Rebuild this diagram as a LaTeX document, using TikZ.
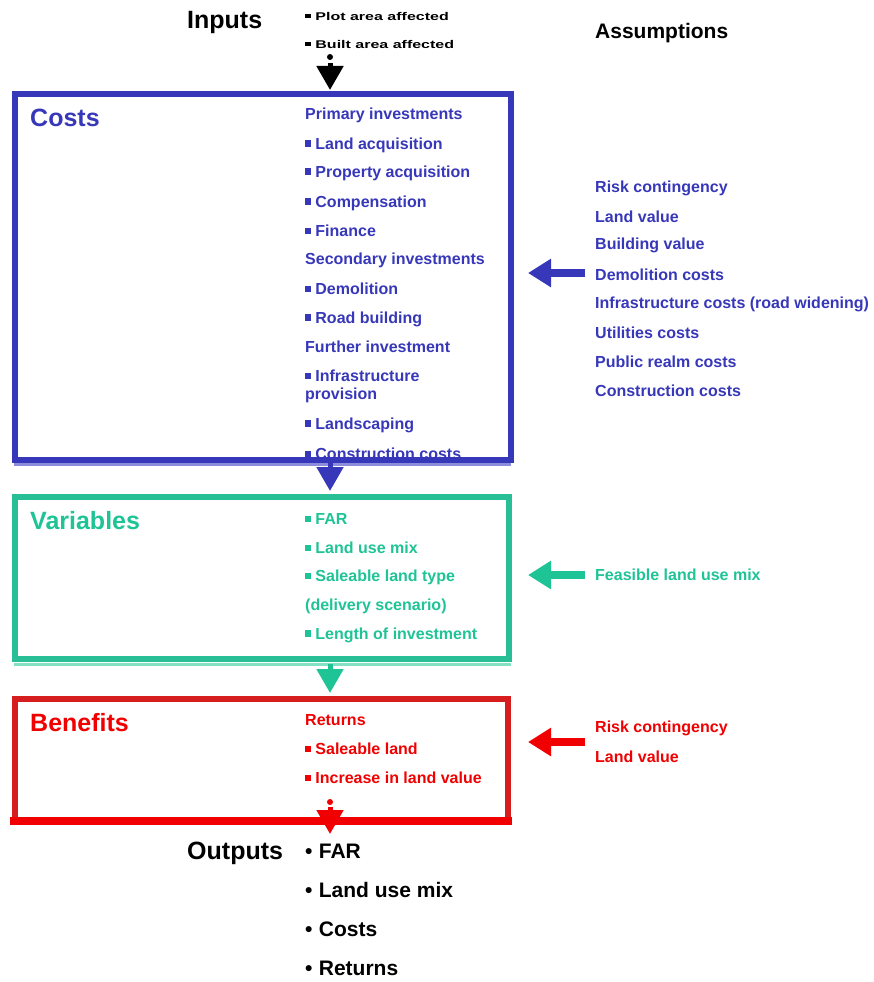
\documentclass[tikz,border=0pt]{standalone}
\usepackage{fontspec}
\usepackage{graphicx}
\setmainfont{Liberation Sans}
\usetikzlibrary{arrows.meta}
\definecolor{cblue}{RGB}{55,55,185}
\definecolor{cbluel}{RGB}{140,140,220}
\definecolor{cteal}{RGB}{30,195,150}
\definecolor{ctealline}{RGB}{40,190,150}
\definecolor{ctealL}{RGB}{130,225,195}
\definecolor{credline}{RGB}{215,30,30}
\definecolor{cred}{RGB}{240,0,0}
\newcommand{\sqb}{\rule[0.16em]{0.38em}{0.38em}\hspace{0.26em}}
\begin{document}
\begin{tikzpicture}[x=1pt,y=-1pt,
  ttl/.style={font=\fontsize{25}{30}\selectfont\bfseries, anchor=west, inner sep=0pt},
  itm/.style={font=\fontsize{16}{19}\selectfont\bfseries, anchor=west, inner sep=0pt, align=left},
  outitm/.style={font=\fontsize{21}{25}\selectfont\bfseries, anchor=west, inner sep=0pt},
  box/.style={draw, line width=6pt, inner sep=0pt},
  downarr/.style={line width=5pt, -{Triangle[width=26pt,length=24pt]}},
  leftarr/.style={line width=8pt, -{Triangle[width=27pt,length=23pt]}}]
\useasboundingbox (0,0) rectangle (873,982);

% ---------- top ----------
\node[ttl] (inputs) at (187,22) {Inputs};
\node[itm] (in1) at (305,16) {\scalebox{1}[0.7]{\sqb Plot area affected}};
\node[itm] (in2) at (305,44) {\scalebox{1}[0.7]{\sqb Built area affected}};
\node[font=\fontsize{21}{25}\selectfont\bfseries, anchor=west, inner sep=0pt] (assum) at (595,33) {Assumptions};

% ---------- costs ----------
\node[ttl, text=cblue] (costsT) at (30,118) {Costs};
\node[itm, text=cblue] (c1) at (305,115) {Primary investments};
\node[itm, text=cblue] (c2) at (305,145) {\sqb Land acquisition};
\node[itm, text=cblue] (c3) at (305,173) {\sqb Property acquisition};
\node[itm, text=cblue] (c4) at (305,203) {\sqb Compensation};
\node[itm, text=cblue] (c5) at (305,231) {\sqb Finance};
\node[itm, text=cblue] (c6) at (305,260) {Secondary investments};
\node[itm, text=cblue] (c7) at (305,289) {\sqb Demolition};
\node[itm, text=cblue] (c8) at (305,319) {\sqb Road building};
\node[itm, text=cblue] (c9) at (305,347) {Further investment};
\node[itm, text=cblue] (c10) at (305,376) {\sqb Infrastructure};
\node[itm, text=cblue] (c10b) at (305,395) {provision};
\node[itm, text=cblue] (c11) at (305,425) {\sqb Landscaping};
\node[itm, text=cblue] (c12) at (305,454) {\sqb Construction costs};

\node[itm, text=cblue] (a1) at (595,188) {Risk contingency};
\node[itm, text=cblue] (a2) at (595,217) {Land value};
\node[itm, text=cblue] (a3) at (595,245) {Building value};
\node[itm, text=cblue] (a4) at (595,275) {Demolition costs};
\node[itm, text=cblue] (a5) at (595,304) {Infrastructure costs (road widening)};
\node[itm, text=cblue] (a6) at (595,333) {Utilities costs};
\node[itm, text=cblue] (a7) at (595,362) {Public realm costs};
\node[itm, text=cblue] (a8) at (595,391) {Construction costs};
\draw[cbluel, line width=3pt] (14,464) -- (511,464);
\node[box, draw=cblue, minimum width=496pt, minimum height=366.5pt] (costs) at (262.5,276.75) {};

% ---------- variables ----------
\node[ttl, text=cteal] (varT) at (30,521) {Variables};
\node[itm, text=cteal] (v1) at (305,519) {\sqb FAR};
\node[itm, text=cteal] (v2) at (305,548) {\sqb Land use mix};
\node[itm, text=cteal] (v3) at (305,577) {\sqb Saleable land type};
\node[itm, text=cteal] (v3b) at (305,606) {(delivery scenario)};
\node[itm, text=cteal] (v4) at (305,635) {\sqb Length of investment};
\node[itm, text=cteal] (fa) at (595,575) {Feasible land use mix};
\draw[ctealL, line width=3pt] (14,664) -- (511,664);
\node[box, draw=ctealline, minimum width=494pt, minimum height=162pt] (vars) at (261.5,578) {};

% ---------- benefits ----------
\node[ttl, text=cred] (benT) at (30,723) {Benefits};
\node[itm, text=cred] (b1) at (305,720) {Returns};
\node[itm, text=cred] (b2) at (305,749) {\sqb Saleable land};
\node[itm, text=cred] (b3) at (305,778) {\sqb Increase in land value};
\node[itm, text=cred] (r1) at (595,728) {Risk contingency};
\node[itm, text=cred] (r2) at (595,757) {Land value};
\coordinate (bTL) at (15,699);
\coordinate (bTR) at (508,699);
\coordinate (bBL) at (15,821);
\coordinate (bBR) at (508,821);
\draw[credline, line width=6pt] (bBL) -- (bTL) -- (bTR) -- (bBR);
\draw[cred, line width=8pt] (10,821) -- (512,821);

% ---------- outputs ----------
\node[ttl] (outT) at (187,853) {Outputs};
\node[outitm] (o1) at (305,851) {\textbullet\hspace{0.3em}FAR};
\node[outitm] (o2) at (305,890) {\textbullet\hspace{0.3em}Land use mix};
\node[outitm] (o3) at (305,929) {\textbullet\hspace{0.3em}Costs};
\node[outitm] (o4) at (305,968) {\textbullet\hspace{0.3em}Returns};

% ---------- down arrows ----------
\coordinate (d0) at (330,63);
\coordinate (d0e) at (330,90);
\fill (330,57) circle (3pt);
\draw[downarr, black] (d0) -- (d0e);

\coordinate (d1) at (330,463);
\coordinate (d1e) at (330,491);
\draw[downarr, cblue] (d1) -- (d1e);

\coordinate (d2) at (330,664);
\coordinate (d2e) at (330,693);
\draw[downarr, cteal] (d2) -- (d2e);

\fill[cred] (330,802) circle (3pt);
\coordinate (d3) at (330,807);
\coordinate (d3e) at (330,834);
\draw[downarr, cred] (d3) -- (d3e);

% ---------- left arrows ----------
\coordinate (la1) at (585,273);
\coordinate (la1e) at (528,273);
\draw[leftarr, cblue] (la1) -- (la1e);
\coordinate (la2) at (585,575);
\coordinate (la2e) at (528,575);
\draw[leftarr, cteal] (la2) -- (la2e);
\coordinate (la3) at (585,742);
\coordinate (la3e) at (528,742);
\draw[leftarr, cred] (la3) -- (la3e);
\end{tikzpicture}
\end{document}
